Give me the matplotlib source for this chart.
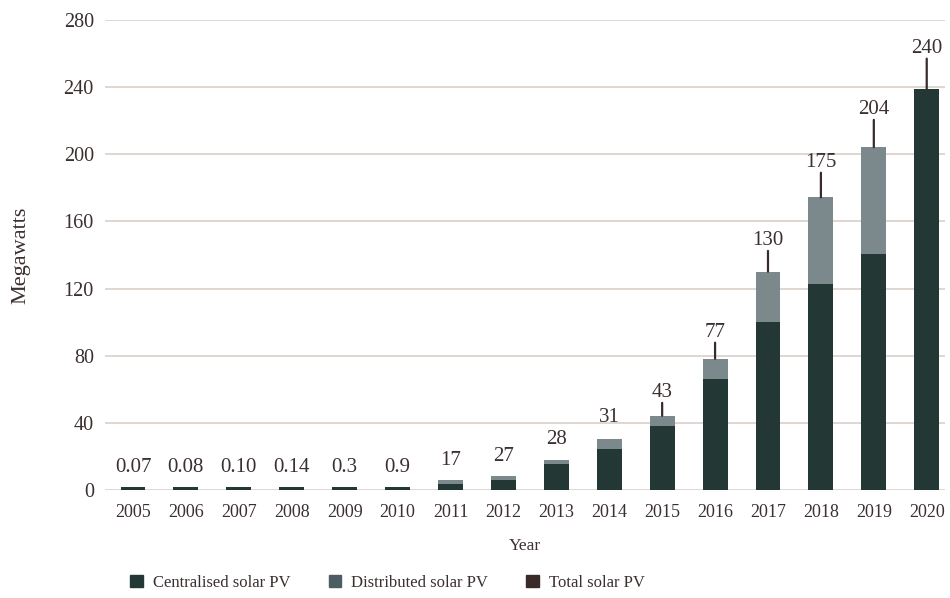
import numpy as np
import matplotlib
matplotlib.use("Agg")
import matplotlib.pyplot as plt
from matplotlib.patches import Patch

# ─── DATA ───────────────────────────────────────────────────────────────────
years = ["2005", "2006", "2007", "2008", "2009", "2010", "2011", "2012",
         "2013", "2014", "2015", "2016", "2017", "2018", "2019", "2020"]
centralised = [1.8, 1.8, 1.8, 1.8, 1.8, 1.8, 3.6, 6.0,
               15.5, 24.5, 38.2, 66.3, 100.3, 123.0, 140.3, 238.8]
distributed = [0.0, 0.0, 0.0, 0.0, 0.0, 0.0, 2.4, 2.4,
               2.4, 5.9, 6.0, 11.9, 29.8, 51.3, 63.9, 0.0]
total_labels = ["0.07", "0.08", "0.10", "0.14", "0.3", "0.9", "17", "27",
                "28", "31", "43", "77", "130", "175", "204", "240"]

# ─── STYLE ──────────────────────────────────────────────────────────────────
C_CENT = "#233735"
C_DIST = "#7b898c"
C_DIST_LEG = "#4e5d61"
C_TOTAL = "#3a2b2b"
C_TEXT = "#3b2f2f"
C_GRID = "#d8cfca"

plt.rcParams["font.family"] = ["Liberation Serif", "DejaVu Serif"]
plt.rcParams["text.color"] = C_TEXT

fig = plt.figure(figsize=(9.5, 5.98), dpi=100)
ax = fig.add_axes([0.1105, 0.1806, 0.8845, 0.786])

x = np.arange(len(years))
cent = np.array(centralised)
dist = np.array(distributed)
tops = cent + dist

ax.bar(x, cent, width=0.47, color=C_CENT, zorder=3)
ax.bar(x, dist, width=0.47, bottom=cent, color=C_DIST, zorder=3)

# total labels with leader lines
for xi, top, lab in zip(x, tops, total_labels):
    off = 19 + 0.09 * top
    if top > 40:
        ax.annotate("", xy=(xi, top), xytext=(0, off - 10), textcoords="offset pixels",
                    arrowprops=dict(arrowstyle="-", color=C_TOTAL, lw=1.6,
                                    shrinkA=0, shrinkB=0), zorder=4)
    ax.annotate(lab, xy=(xi, top), xytext=(0, off), textcoords="offset pixels",
                ha="center", va="center", fontsize=15, color=C_TEXT)

ax.set_xlim(-0.53, 15.35)
ax.set_ylim(0, 280)
ax.set_yticks(np.arange(0, 281, 40))
ax.set_xticks(x)
ax.set_xticklabels(years)
ax.tick_params(axis="both", length=0, colors=C_TEXT)
ax.tick_params(axis="y", pad=8, labelsize=14.5)
ax.tick_params(axis="x", pad=10, labelsize=13)
ax.grid(axis="y", color=C_GRID, lw=1.2, zorder=0)
for s in ax.spines.values():
    s.set_visible(False)

ax.set_xlabel("Year", fontsize=12.5, color=C_TEXT, labelpad=12)
ax.set_ylabel("Megawatts", fontsize=16, color=C_TEXT, labelpad=24)

handles = [Patch(color=C_CENT, label="Centralised solar PV"),
           Patch(color=C_DIST_LEG, label="Distributed solar PV"),
           Patch(color=C_TOTAL, label="Total solar PV")]
fig.legend(handles=handles, loc="center left", bbox_to_anchor=(0.13, 1 - 583 / 598),
           ncol=3, frameon=False, fontsize=12, handlelength=0.75, handleheight=0.75,
           handletextpad=0.6, columnspacing=2.3, borderaxespad=0)

plt.savefig("out.png", dpi=100)
